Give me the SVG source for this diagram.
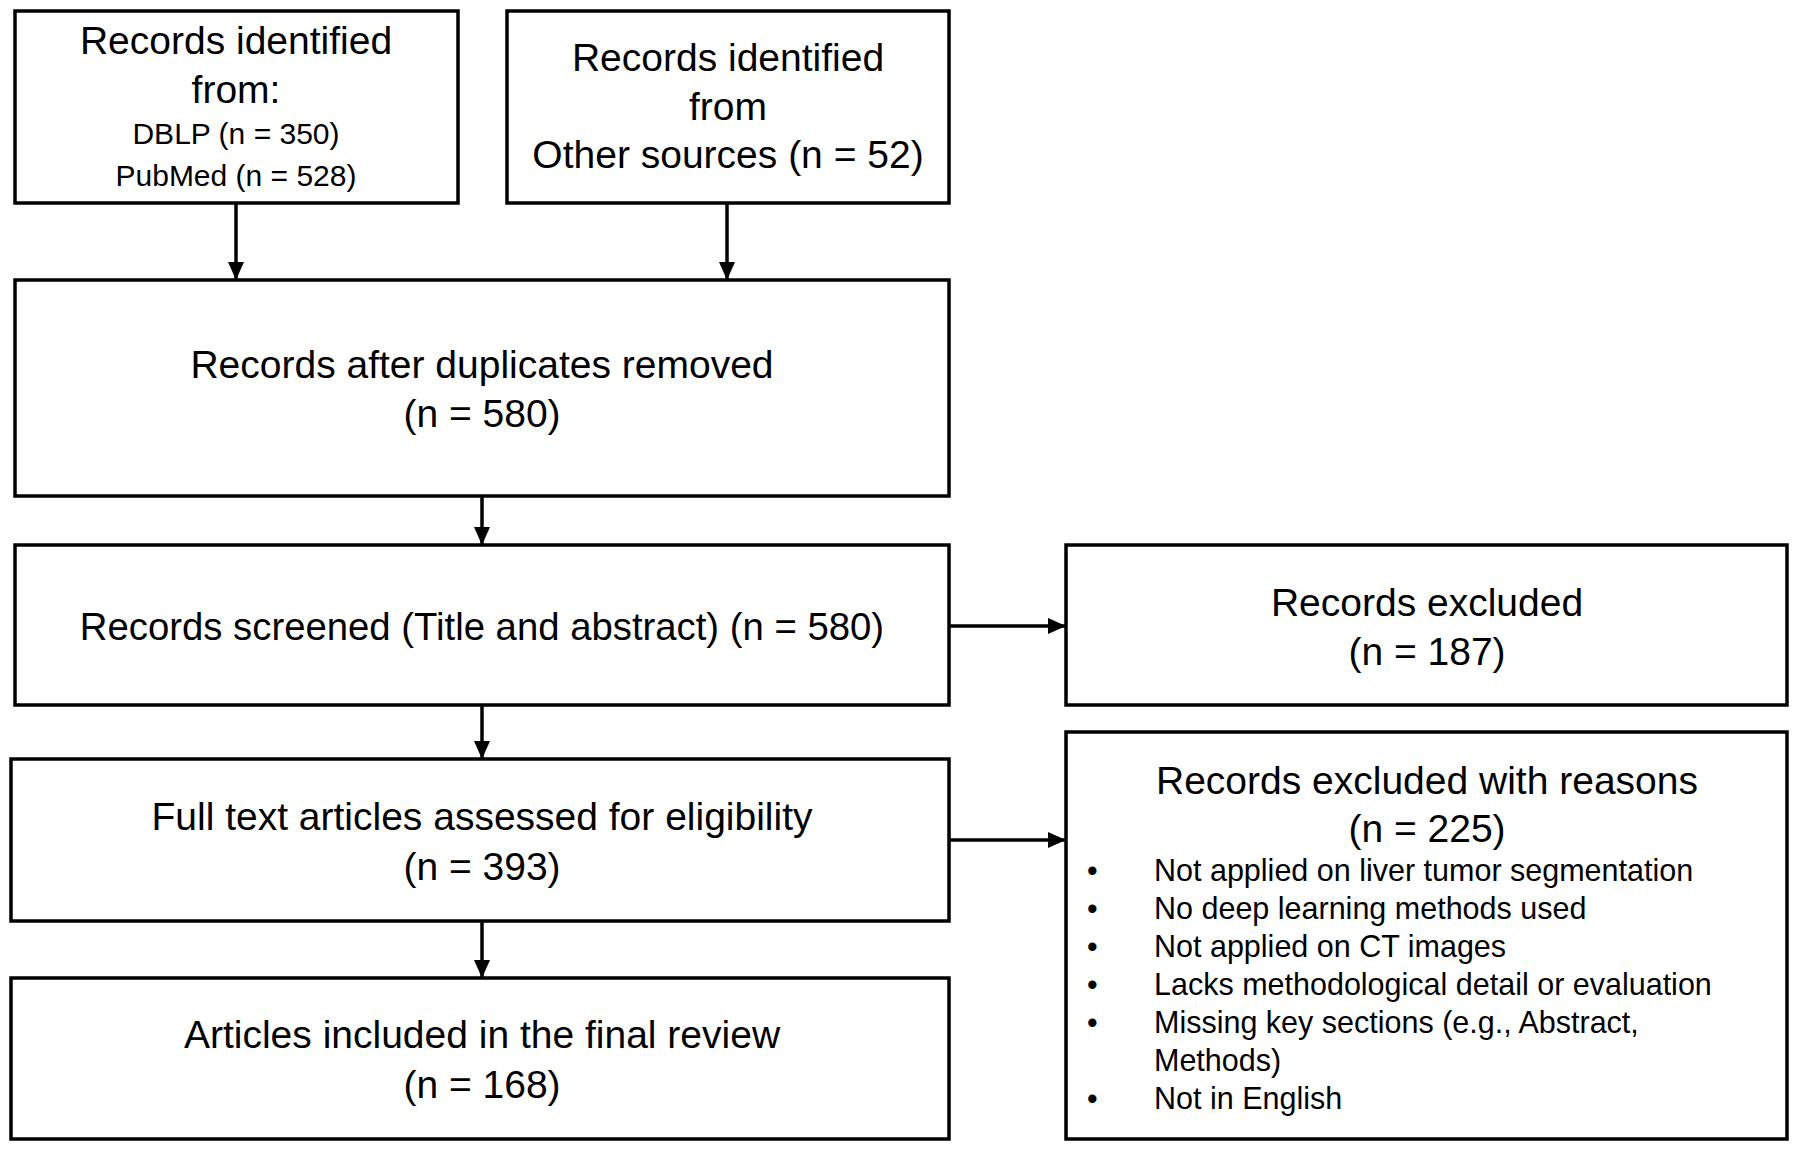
<svg xmlns="http://www.w3.org/2000/svg" width="1800" height="1151" viewBox="0 0 1800 1151">
<style>
.box{fill:#fff;stroke:#000;stroke-width:3.5}
.t{font-family:"Liberation Sans",Arial,sans-serif;font-size:39px;fill:#000;text-anchor:middle}
.s{font-family:"Liberation Sans",Arial,sans-serif;font-size:30px;fill:#000;text-anchor:middle}
.b{font-family:"Liberation Sans",Arial,sans-serif;font-size:30.5px;fill:#000}
.c{stroke:#000;stroke-width:3.5;fill:none;marker-end:url(#ah)}
</style>
<defs>
<marker id="ah" markerUnits="userSpaceOnUse" markerWidth="20" markerHeight="18" refX="18" refY="8" orient="auto">
<path d="M0,0 L18,8 L0,16 Z" fill="#000"/>
</marker>
</defs>
<rect width="1800" height="1151" fill="#fff"/>
<g id="n1">
<rect class="box" x="15" y="11" width="443" height="192"/>
<text class="t" x="236" y="54">Records identified</text>
<text class="t" x="236" y="103">from:</text>
<text class="s" x="236" y="144">DBLP (n = 350)</text>
<text class="s" x="236" y="186">PubMed (n = 528)</text>
</g>
<g id="n2">
<rect class="box" x="507" y="11" width="442" height="192"/>
<text class="t" x="728" y="71">Records identified</text>
<text class="t" x="728" y="120">from</text>
<text class="t" x="728" y="168">Other sources (n = 52)</text>
</g>
<g id="n3">
<rect class="box" x="15" y="280" width="934" height="216"/>
<text class="t" x="482" y="378">Records after duplicates removed</text>
<text class="t" x="482" y="427">(n = 580)</text>
</g>
<g id="n4">
<rect class="box" x="15" y="545" width="934" height="160"/>
<text class="t" x="482" y="640" style="font-size:38.3px">Records screened (Title and abstract) (n = 580)</text>
</g>
<g id="n5">
<rect class="box" x="1066" y="545" width="721" height="160"/>
<text class="t" x="1427" y="616">Records excluded</text>
<text class="t" x="1427" y="665">(n = 187)</text>
</g>
<g id="n6">
<rect class="box" x="11" y="759" width="938" height="162"/>
<text class="t" x="482" y="830">Full text articles assessed for eligibility</text>
<text class="t" x="482" y="880">(n = 393)</text>
</g>
<g id="n7">
<rect class="box" x="1066" y="732" width="721" height="407"/>
<text class="t" x="1427" y="794">Records excluded with reasons</text>
<text class="t" x="1427" y="842">(n = 225)</text>
<text class="b" x="1087" y="881">•</text><text class="b" x="1154" y="881">Not applied on liver tumor segmentation</text>
<text class="b" x="1087" y="919">•</text><text class="b" x="1154" y="919">No deep learning methods used</text>
<text class="b" x="1087" y="957">•</text><text class="b" x="1154" y="957">Not applied on CT images</text>
<text class="b" x="1087" y="995">•</text><text class="b" x="1154" y="995">Lacks methodological detail or evaluation</text>
<text class="b" x="1087" y="1033">•</text><text class="b" x="1154" y="1033">Missing key sections (e.g., Abstract,</text>
<text class="b" x="1154" y="1071">Methods)</text>
<text class="b" x="1087" y="1109">•</text><text class="b" x="1154" y="1109">Not in English</text>
</g>
<g id="n8">
<rect class="box" x="11" y="978" width="938" height="161"/>
<text class="t" x="482" y="1048">Articles included in the final review</text>
<text class="t" x="482" y="1098">(n = 168)</text>
</g>
<g id="connectors">
<line class="c" x1="236" y1="203" x2="236" y2="280"/>
<line class="c" x1="727" y1="203" x2="727" y2="280"/>
<line class="c" x1="482" y1="496" x2="482" y2="545"/>
<line class="c" x1="949" y1="626" x2="1066" y2="626"/>
<line class="c" x1="482" y1="705" x2="482" y2="759"/>
<line class="c" x1="949" y1="840" x2="1066" y2="840"/>
<line class="c" x1="482" y1="921" x2="482" y2="978"/>
</g>
</svg>
